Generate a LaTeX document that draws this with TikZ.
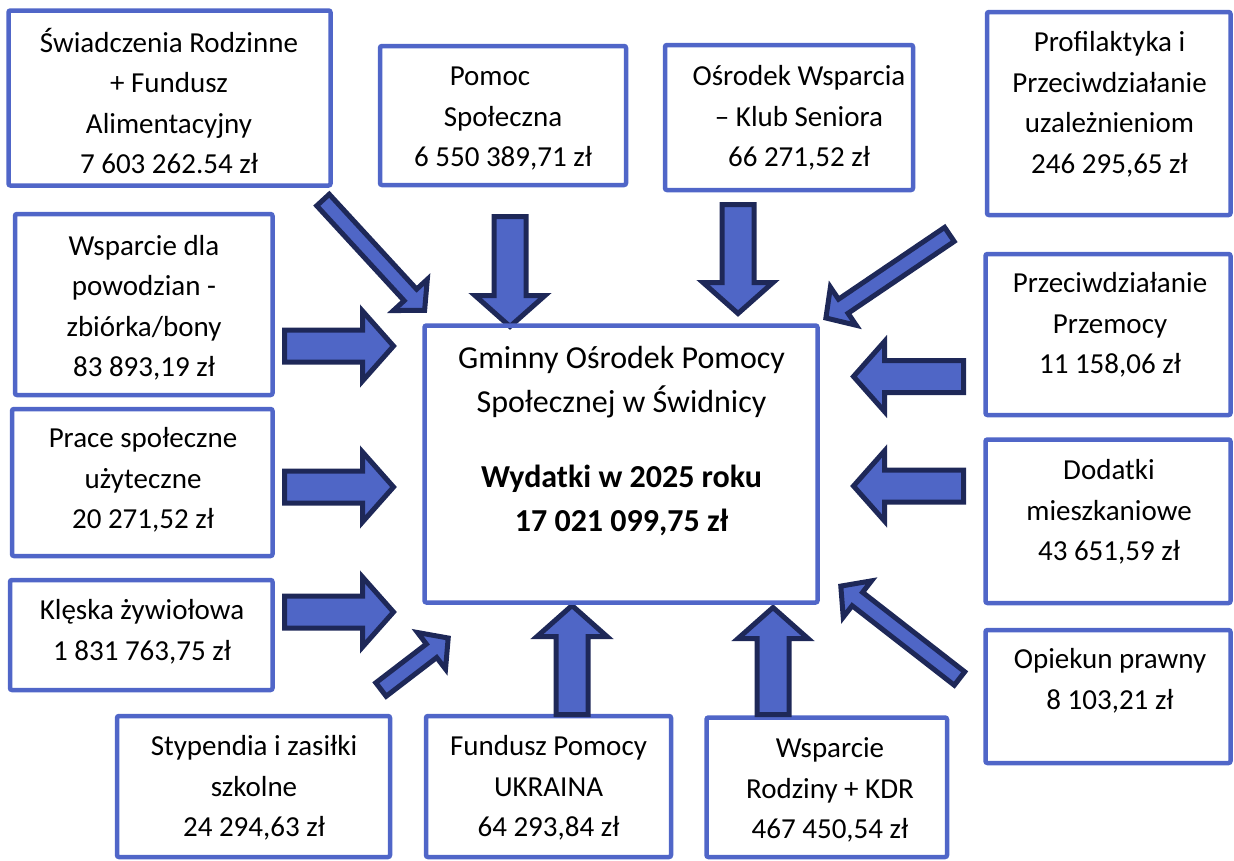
\documentclass[tikz,border=0pt]{standalone}
\usepackage{fontspec}
\setmainfont{Carlito}
\usetikzlibrary{calc}
\definecolor{boxblue}{RGB}{80,102,200}
\definecolor{arrowfill}{RGB}{79,102,198}
\definecolor{arrowline}{RGB}{30,40,88}
\tikzset{
  box/.style={draw=boxblue, line width=4.5pt, rounded corners=2pt, inner sep=0pt},
  txt/.style={align=center, inner sep=0pt, font=\fontsize{29}{40.5}\selectfont},
  bigtxt/.style={align=center, inner sep=0pt, font=\fontsize{32}{44.5}\selectfont},
  blockarrow/.style={draw=arrowline, fill=arrowfill, line width=5pt, line join=miter},
}
% #1 name, #2 x1, #3 y1, #4 x2, #5 y2
\newcommand{\boxnode}[5]{%
  \node[box, minimum width={(#4)-(#2)}, minimum height={(#5)-(#3)}] (#1)
    at ({((#2)+(#4))/2},{((#3)+(#5))/2}) {};}
% #1 tail, #2 tip, #3 shaft half width, #4 head half width, #5 head length
\newcommand{\blockarrow}[5]{%
  \coordinate (#1-#2-h) at ($(#2)!#5!(#1)$);
  \draw[blockarrow] ($(#1)!#3!90:(#2)$) -- ($(#1-#2-h)!#3!-90:(#1)$)
    -- ($(#1-#2-h)!#4!-90:(#1)$) -- (#2) -- ($(#1-#2-h)!#4!90:(#1)$)
    -- ($(#1-#2-h)!#3!90:(#1)$) -- ($(#1)!#3!-90:(#2)$) -- cycle;}
\begin{document}
\begin{tikzpicture}[x=1pt,y=-1pt]
\useasboundingbox (0,0) rectangle (1234,860);

% side boxes
\boxnode{swiad}{8.5}{10.5}{330.5}{185.5}
\boxnode{pomoc}{380}{46}{626}{185}
\boxnode{osrodek}{665}{45}{913}{190}
\boxnode{profil}{987}{12}{1230.5}{215}
\boxnode{powodz}{15}{214}{272.5}{395}
\boxnode{prace}{12}{409}{272.5}{556}
\boxnode{kleska}{10}{580}{272.5}{690}
\boxnode{styp}{117}{716}{390}{857}
\boxnode{ukraina}{426}{716}{671}{857}
\boxnode{kdr}{706.5}{717.5}{947}{857}
\boxnode{przemoc}{985.5}{254}{1230.5}{415}
\boxnode{dodatki}{985.5}{439.5}{1230.5}{603}
\boxnode{opiekun}{985.5}{630}{1230.5}{763}

% texts
\node[txt] (swiad-t) at (169,101) {Świadczenia Rodzinne\\+ Fundusz\\Alimentacyjny\\7 603 262.54 zł};
\node[txt] (pomoc-t) at (503,119) {Pomoc\hspace*{26pt}\\Społeczna\\6 550 389,71 zł};
\node[txt] (osrodek-t) at (799,118) {Ośrodek Wsparcia\\– Klub Seniora\\66 271,52 zł};
\node[txt] (profil-t) at (1109.5,104.5) {Profilaktyka i\\Przeciwdziałanie\\uzależnieniom\\246 295,65 zł};
\node[txt] (powodz-t) at (144,308) {Wsparcie dla\\powodzian -\\zbiórka/bony\\83 893,19 zł};
\node[txt] (prace-t) at (143,480) {Prace społeczne\\użyteczne\\20 271,52 zł};
\node[txt] (kleska-t) at (142,632) {Klęska żywiołowa\\1 831 763,75 zł};
\node[txt] (styp-t) at (254,788) {Stypendia i zasiłki\\szkolne\\24 294,63 zł};
\node[txt] (ukraina-t) at (548.5,788) {Fundusz Pomocy\\UKRAINA\\64 293,84 zł};
\node[txt] (kdr-t) at (830,790) {Wsparcie\\Rodziny + KDR\\467 450,54 zł};
\node[txt] (przemoc-t) at (1110,325) {Przeciwdziałanie\\Przemocy\\11 158,06 zł};
\node[txt] (dodatki-t) at (1109,512) {Dodatki\\mieszkaniowe\\43 651,59 zł};
\node[txt] (opiekun-t) at (1110,681) {Opiekun prawny\\8 103,21 zł};

% arrow end points
\coordinate (a1t) at (284.5,346);   \coordinate (a1p) at (393.5,346);
\coordinate (a2t) at (284.5,487);   \coordinate (a2p) at (393.5,487);
\coordinate (a3t) at (284.5,612);   \coordinate (a3p) at (393.5,612);
\coordinate (a4t) at (510,216.5);   \coordinate (a4p) at (510,326.5);
\coordinate (a5t) at (738,204.5);   \coordinate (a5p) at (738,313.5);
\coordinate (a6t) at (963.5,376.5); \coordinate (a6p) at (853.5,376.5);
\coordinate (a7t) at (963.5,486);   \coordinate (a7p) at (853.5,486);
\coordinate (a8t) at (572,714.5);   \coordinate (a8p) at (572,605.5);
\coordinate (a9t) at (773,714.5);   \coordinate (a9p) at (773,607.5);
\coordinate (b1t) at (323,200);     \coordinate (b1p) at (424.6,310.4);
\coordinate (b2t) at (381,689.5);   \coordinate (b2p) at (448.2,638);
\coordinate (b3t) at (949.4,234.4); \coordinate (b3p) at (825.9,318);
\coordinate (b4t) at (959.5,678.5); \coordinate (b4p) at (840.8,586.1);

\blockarrow{a1t}{a1p}{16pt}{35pt}{31pt}
\blockarrow{a2t}{a2p}{16pt}{35pt}{31pt}
\blockarrow{a3t}{a3p}{16pt}{35pt}{31pt}
\blockarrow{a4t}{a4p}{16pt}{35pt}{31pt}
\blockarrow{a5t}{a5p}{16pt}{35pt}{31pt}
\blockarrow{a6t}{a6p}{16pt}{35pt}{31pt}
\blockarrow{a7t}{a7p}{16pt}{35pt}{31pt}
\blockarrow{a8t}{a8p}{16pt}{35pt}{31pt}
\blockarrow{a9t}{a9p}{16pt}{35pt}{31pt}
\blockarrow{b1t}{b1p}{8.5pt}{23pt}{21pt}
\blockarrow{b2t}{b2p}{8.5pt}{23pt}{21pt}
\blockarrow{b3t}{b3p}{8.5pt}{23pt}{21pt}
\blockarrow{b4t}{b4p}{8.5pt}{23pt}{21pt}

% centre
\boxnode{gops}{424.5}{325.5}{817.5}{602.5}
\node[bigtxt] (gops-t) at (621.5,441) {Gminny Ośrodek Pomocy\\Społecznej w Świdnicy\\[30pt]\textbf{Wydatki w 2025 roku}\\\textbf{17 021 099,75 zł}};
\end{tikzpicture}
\end{document}
